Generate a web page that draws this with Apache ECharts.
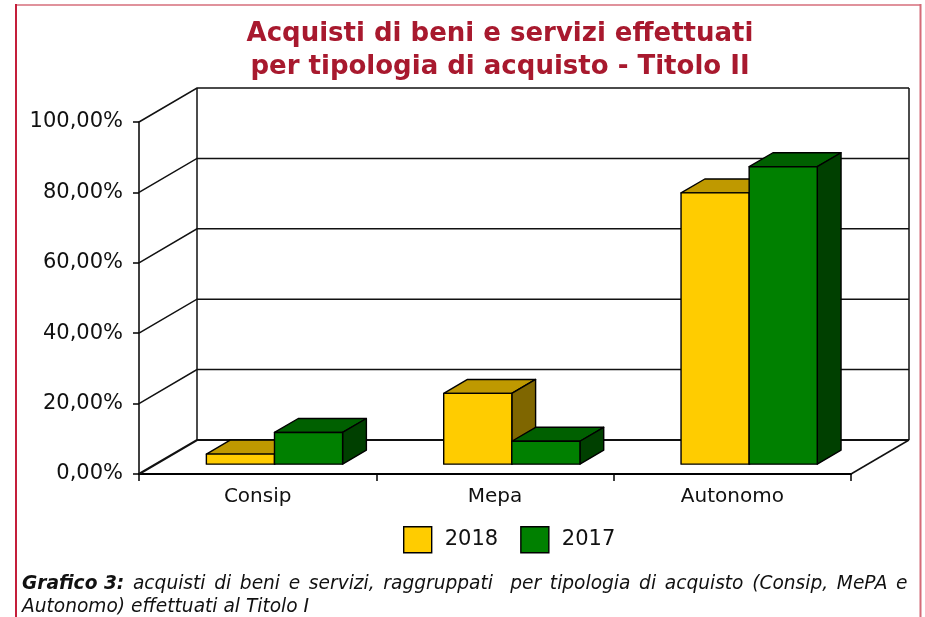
<!DOCTYPE html>
<html>
<head>
<meta charset="utf-8">
<script src="https://cdn.jsdelivr.net/npm/echarts@6/dist/echarts.min.js"></script>
<style>
  html, body { margin: 0; padding: 0; background: #fff; }
  #chart { width: 925px; height: 617px; }
</style>
</head>
<body>
<div id="chart"></div>
<script>
const categories = ['Consip', 'Mepa', 'Autonomo']
const years = ['2018', '2017']
const values2018 = [2.85, 20.1, 77.05]
const values2017 = [9.0, 6.5, 84.5]
const yTicks = [0, 20, 40, 60, 80, 100]

// pseudo 3d depth of the floor / back wall, in pixels
const depth = [58, -34]
const barFront = 0.29
const barDepth = 0.41

const faces = {
  '2018': { front: '#FFCC00', top: '#BF9900', side: '#7F6600' },
  '2017': { front: '#008000', top: '#006000', side: '#004000' },
}

const captionLine1 = 'acquisti di beni e servizi, raggruppati  per tipologia di acquisto (Consip, MePA e'
const captionLine2 = 'Autonomo) effettuati al Titolo I'

const chart = echarts.init(document.getElementById('chart'))

function renderWall(params, api) {
  const cs = params.coordSys
  const L = cs.x
  const R = cs.x + cs.width
  const v = api.value(0)
  const y = api.coord([0, v])[1]
  const line = { stroke: '#111', lineWidth: 1.5 }
  const children = [{
    type: 'polyline',
    shape: { points: [[L, y], [L + depth[0], y + depth[1]], [R + depth[0], y + depth[1]]] },
    style: Object.assign({ fill: null }, line, { lineWidth: v === 0 ? 2.2 : 1.5 }),
  }]
  if (v === 0) {
    const yTop = api.coord([0, 100])[1]
    children.push({
      type: 'line',
      shape: { x1: L + depth[0], y1: y + depth[1], x2: L + depth[0], y2: yTop + depth[1] },
      style: line,
    }, {
      type: 'line',
      shape: { x1: R + depth[0], y1: y + depth[1], x2: R + depth[0], y2: yTop + depth[1] },
      style: line,
    }, {
      type: 'line',
      shape: { x1: R, y1: y, x2: R + depth[0], y2: y + depth[1] },
      style: line,
    })
  }
  return { type: 'group', children }
}

function makeBarRenderer(idx, col) {
  return function (params, api) {
    const ci = api.value(0)
    const v = api.value(1)
    const base = api.coord([ci, 0])
    const top = api.coord([ci, v])
    const bw = api.size([1, 0])[0] * 0.287
    const sx = depth[0] * barFront
    const sy = depth[1] * barFront
    const dx = depth[0] * barDepth
    const dy = depth[1] * barDepth
    const x0 = base[0] - bw + idx * bw + sx
    const x1 = x0 + bw
    const yb = base[1] + sy
    const yt = top[1] + sy
    const st = { stroke: '#000', lineWidth: 1.4, lineJoin: 'round' }
    return {
      type: 'group',
      children: [
        { type: 'polygon', shape: { points: [[x0, yt], [x0 + dx, yt + dy], [x1 + dx, yt + dy], [x1, yt]] }, style: Object.assign({ fill: col.top }, st) },
        { type: 'polygon', shape: { points: [[x1, yt], [x1 + dx, yt + dy], [x1 + dx, yb + dy], [x1, yb]] }, style: Object.assign({ fill: col.side }, st) },
        { type: 'rect', shape: { x: x0, y: yt, width: bw, height: yb - yt }, style: Object.assign({ fill: col.front }, st) },
      ],
    }
  }
}

const fmt = v => v.toFixed(2).replace('.', ',') + '%'

// first caption line is justified in the original: widen its spaces a bit
const justified = '{b|Grafico 3:}{s| }' + captionLine1.split(' ').join('{s| }')

chart.setOption({
  backgroundColor: '#fff',
  animation: false,
  textStyle: { fontFamily: 'DejaVu Sans' },
  grid: { left: 139, right: 74, top: 122, bottom: 143 },
  legend: {
    left: 398,
    top: 521,
    itemWidth: 28,
    itemHeight: 26,
    itemGap: 22,
    icon: 'rect',
    data: years,
    itemStyle: { borderColor: '#000', borderWidth: 1.4 },
    textStyle: { fontSize: 21, color: '#111', padding: [0, 0, 0, 8] },
  },
  xAxis: {
    type: 'category',
    data: categories,
    axisLine: { lineStyle: { color: '#000', width: 2.2 } },
    axisTick: { show: true, length: 7, lineStyle: { color: '#000', width: 1.5 } },
    axisLabel: { fontSize: 20, color: '#111', margin: 13 },
    splitLine: { show: false },
  },
  yAxis: {
    type: 'value',
    min: 0,
    max: 100,
    interval: 20,
    axisLine: { show: true, lineStyle: { color: '#000', width: 1.5 } },
    axisTick: { show: true, length: 6, lineStyle: { color: '#000', width: 1.5 } },
    axisLabel: { fontSize: 21, color: '#111', margin: 16, formatter: fmt },
    splitLine: { show: false },
  },
  series: [
    {
      type: 'custom',
      name: 'wall',
      silent: true,
      z: 1,
      renderItem: renderWall,
      encode: { y: 0 },
      data: yTicks.map(v => [v]),
    },
    {
      type: 'custom',
      name: '2018',
      z: 3,
      itemStyle: { color: faces['2018'].front },
      renderItem: makeBarRenderer(0, faces['2018']),
      encode: { x: 0, y: 1 },
      data: values2018.map((v, i) => [i, v]),
    },
    {
      type: 'custom',
      name: '2017',
      z: 4,
      itemStyle: { color: faces['2017'].front },
      renderItem: makeBarRenderer(1, faces['2017']),
      encode: { x: 0, y: 1 },
      data: values2017.map((v, i) => [i, v]),
    },
  ],
  graphic: [
    { type: 'line', shape: { x1: 16, y1: 5, x2: 921, y2: 5 }, style: { stroke: '#E0929C', lineWidth: 2 } },
    { type: 'line', shape: { x1: 16, y1: 4, x2: 16, y2: 617 }, style: { stroke: '#C41E3A', lineWidth: 2 } },
    { type: 'line', shape: { x1: 920.5, y1: 4, x2: 920.5, y2: 617 }, style: { stroke: '#D46A78', lineWidth: 2 } },
    {
      type: 'text',
      x: 500,
      y: 51,
      style: {
        text: 'Acquisti di beni e servizi effettuati\nper tipologia di acquisto - Titolo II',
        fontFamily: 'DejaVu Sans',
        fontWeight: 'bold',
        fontSize: 26,
        lineHeight: 33,
        fill: '#A8192E',
        align: 'center',
        verticalAlign: 'middle',
      },
    },
    {
      type: 'text',
      x: 22,
      y: 596,
      style: {
        text: justified + '\n' + captionLine2,
        fontFamily: 'DejaVu Sans',
        fontStyle: 'italic',
        fontSize: 18.6,
        lineHeight: 23,
        fill: '#111',
        verticalAlign: 'middle',
        rich: {
          b: { fontWeight: 'bold', fontStyle: 'italic', fontSize: 18.6, fontFamily: 'DejaVu Sans', fill: '#111' },
          s: { width: 8.7, fontSize: 18.6, fontStyle: 'italic', fontFamily: 'DejaVu Sans', fill: '#111' },
        },
      },
    },
  ],
})
</script>
</body>
</html>
